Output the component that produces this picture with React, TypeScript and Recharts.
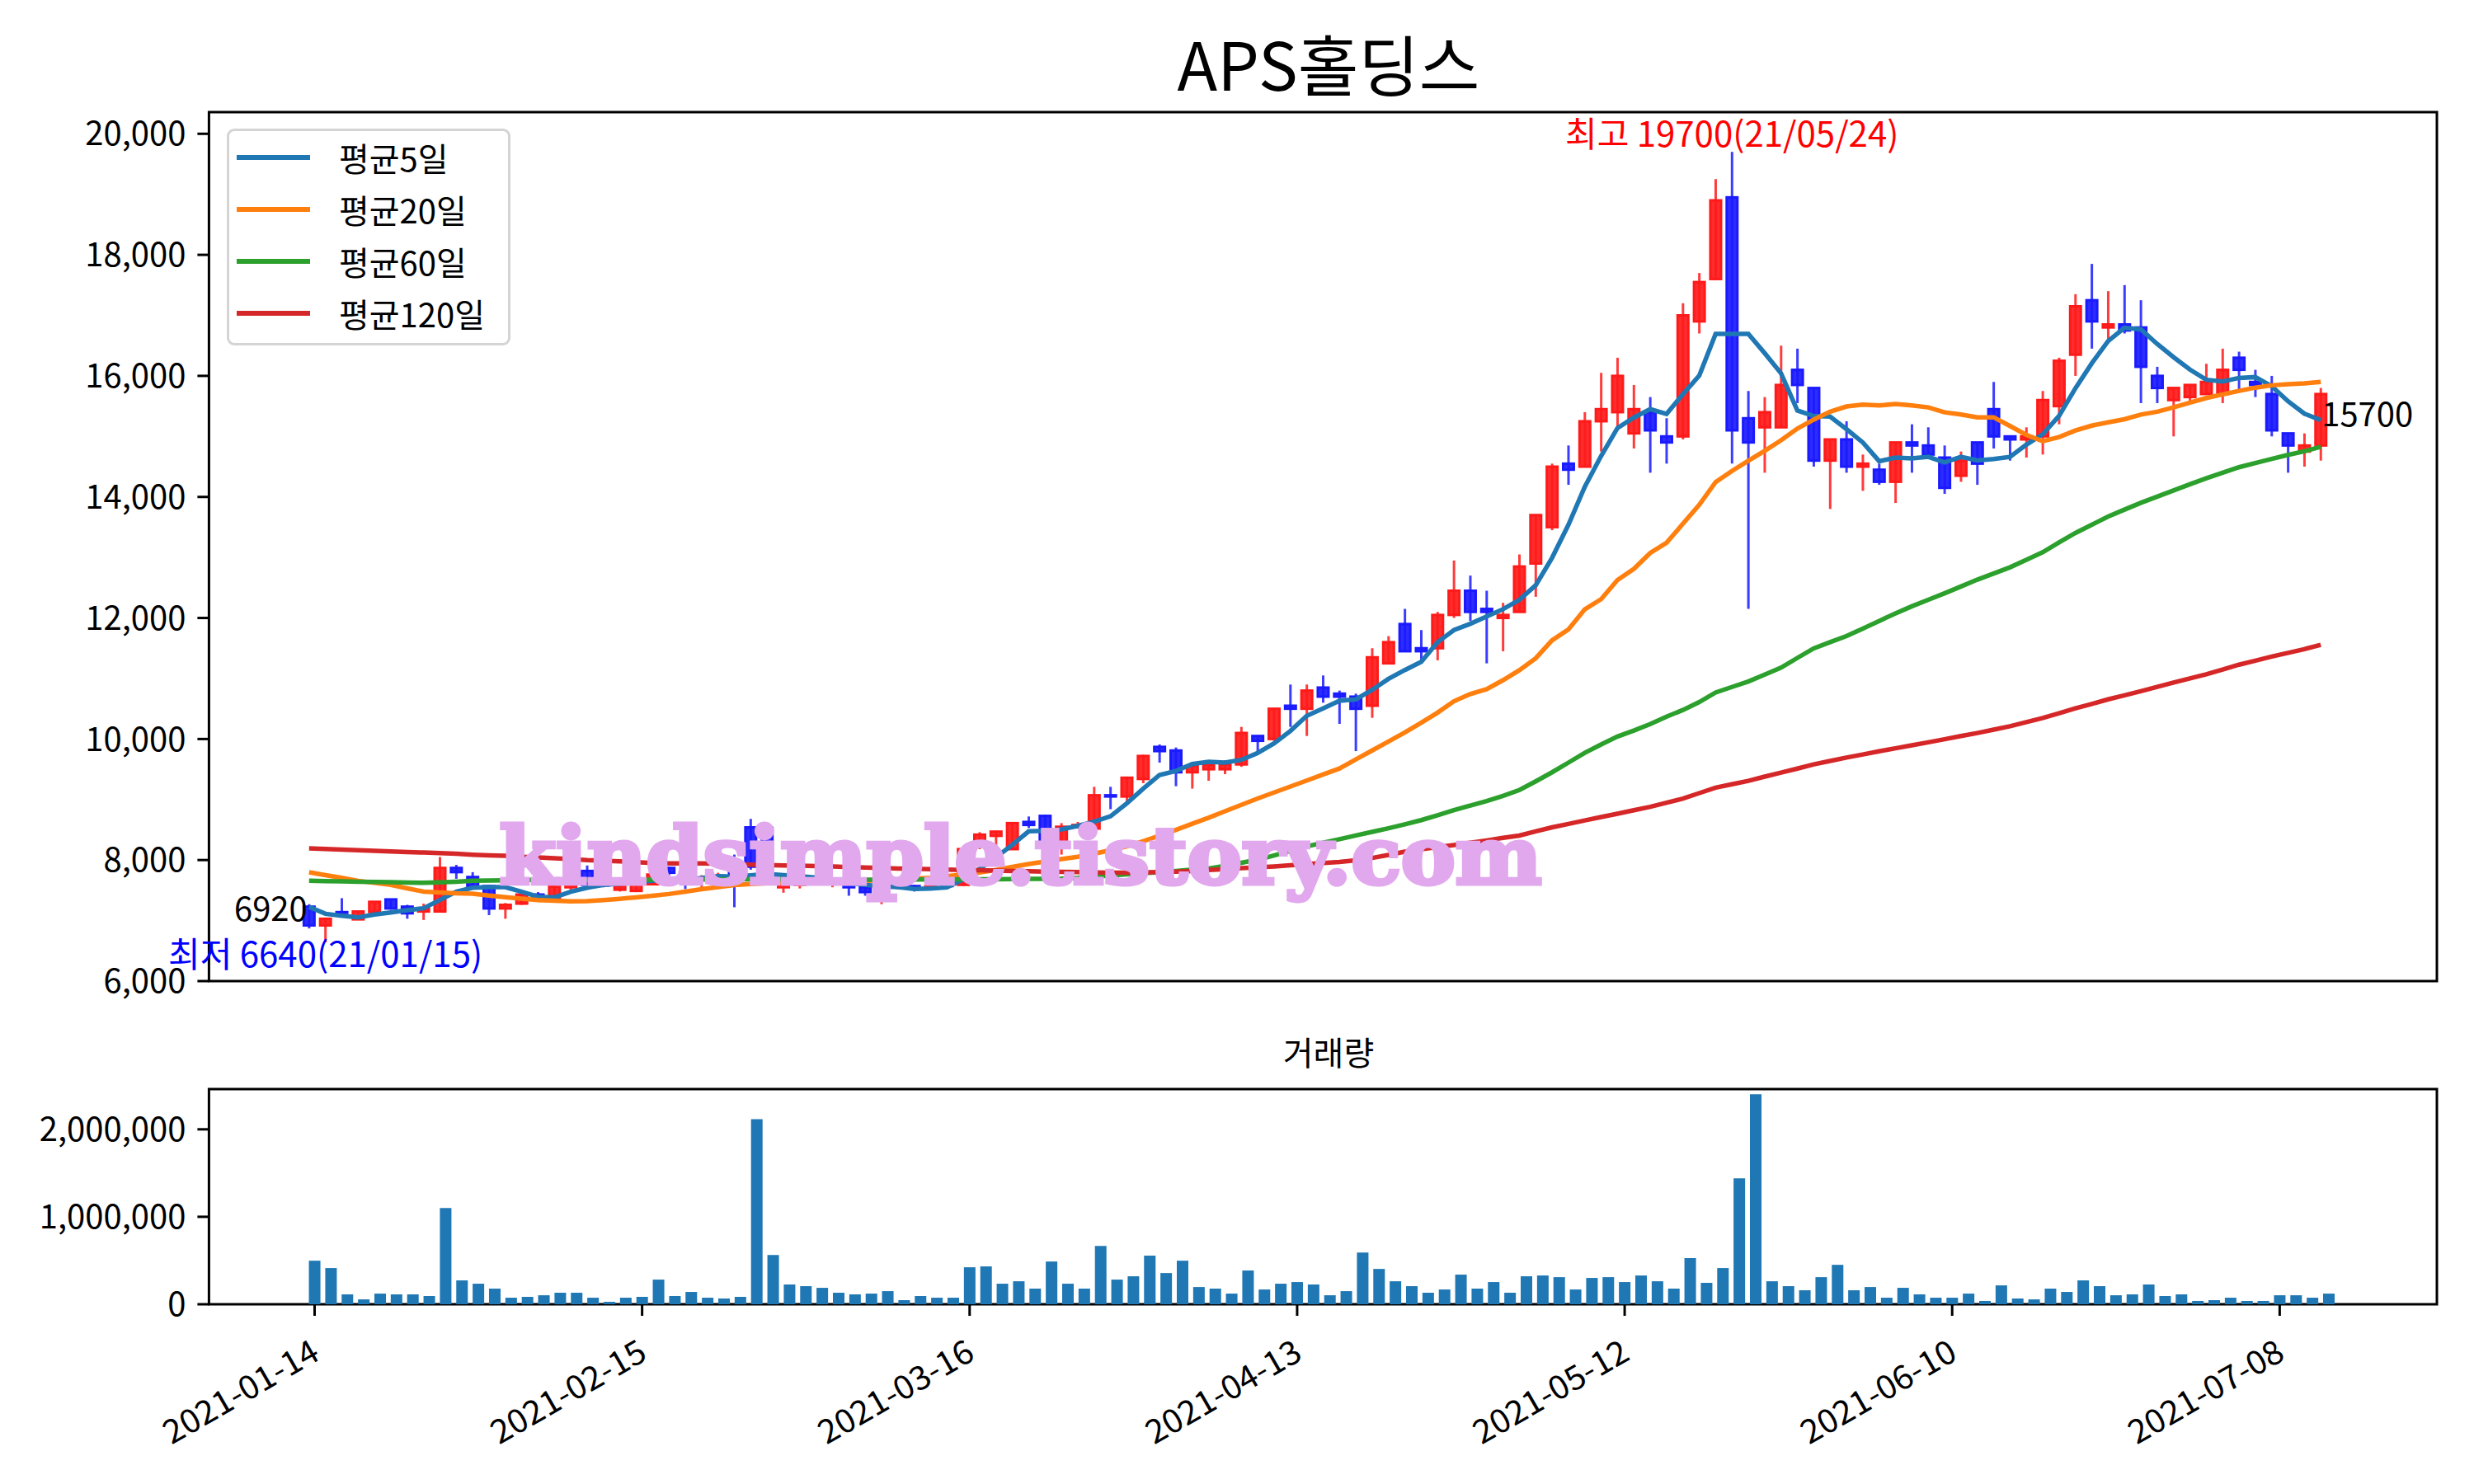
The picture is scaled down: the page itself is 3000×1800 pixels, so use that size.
import React from 'react';
import {
  ComposedChart,
  Bar,
  Line,
  XAxis,
  YAxis,
  ReferenceArea,
  ReferenceDot,
  Legend,
} from 'recharts';

const FONT = '"Noto Sans CJK KR", "Noto Sans", sans-serif';
const UP = '#ff1a1a';
const DOWN = '#1a1aff';

// trading days 2021-01-14 .. 2021-07-16, index 0..123
const opens = [
  7230, 6920, 7140, 7020, 7140, 7350, 7230, 7150, 7150, 7870,
  7720, 7570, 7200, 7280, 7430, 7380, 7550, 7820, 7620, 7510,
  7490, 7600, 7870, 7750, 7670, 7710, 7840, 8540, 8530, 7550,
  7590, 7640, 7610, 7670, 7550, 7470, 7590, 7570, 7530, 7590,
  7590, 8230, 8400, 8180, 8630, 8730, 8250, 8550, 8520, 9070,
  9050, 9340, 9870, 9810, 9450, 9500, 9500, 9580, 10050, 10000,
  10550, 10500, 10850, 10750, 10700, 10550, 11250, 11900, 11500, 11500,
  12050, 12450, 12150, 12000, 12100, 12900, 13500, 14550, 14500, 15250,
  15400, 15050, 15400, 15000, 15000, 16900, 17600, 18950, 15300, 15150,
  15150, 16100, 15800, 14600, 14950, 14500, 14450, 14250, 14900, 14850,
  14650, 14350, 14900, 15450, 15000, 14950, 15000, 15500, 16350, 17250,
  16800, 16850, 16800, 16000, 15600, 15650, 15700, 15700, 16300, 15900,
  15700, 15050, 14750, 14850,
];

const highs = [
  7270, 7040, 7370, 7160, 7320, 7360, 7260, 7280, 8050, 7920,
  7800, 7590, 7290, 7490, 7470, 7570, 7650, 7910, 7640, 7590,
  7610, 7790, 7890, 7790, 7750, 7790, 8090, 8680, 8540, 7640,
  7690, 7690, 7690, 7690, 7590, 7570, 7610, 7590, 7610, 7630,
  8230, 8460, 8480, 8630, 8720, 8750, 8610, 8630, 9210, 9210,
  9380, 9740, 9910, 9860, 9570, 9630, 9650, 10200, 10050, 10500,
  10900, 10900, 11050, 10800, 10750, 11500, 11700, 12150, 11800, 12100,
  12950, 12700, 12450, 12250, 13050, 13700, 14550, 14850, 15400, 16050,
  16300, 15850, 15650, 15300, 17200, 17700, 19250, 19700, 15750, 15650,
  16500, 16450, 15800, 14950, 15250, 14700, 14550, 14900, 15200, 15150,
  14850, 14750, 14900, 15900, 15000, 15150, 15750, 16300, 17350, 17850,
  17400, 17500, 17250, 16150, 15800, 15850, 16200, 16450, 16400, 16100,
  16000, 15050, 15050, 15800,
];

const lows = [
  6870, 6640, 7120, 7010, 7130, 7180, 7030, 7010, 7140, 7690,
  7550, 7090, 7030, 7260, 7360, 7370, 7510, 7570, 7550, 7480,
  7470, 7590, 7750, 7520, 7550, 7640, 7220, 7840, 7740, 7460,
  7530, 7590, 7550, 7410, 7410, 7270, 7520, 7480, 7510, 7550,
  7570, 8180, 8230, 8180, 8530, 8280, 8090, 8520, 8520, 8840,
  8950, 9270, 9610, 9220, 9180, 9310, 9420, 9540, 9770, 9970,
  10200, 10050, 10600, 10250, 9800, 10350, 11250, 11450, 11300, 11300,
  12000, 11950, 11250, 11450, 12100, 12350, 13450, 14200, 14500, 14750,
  15150, 14800, 14400, 14550, 14950, 16700, 17600, 14550, 12150, 14400,
  15150, 15550, 14500, 13800, 14400, 14100, 14200, 13900, 14400, 14650,
  14050, 14250, 14200, 14800, 14600, 14650, 14700, 15200, 16000, 16450,
  16600, 16700, 15550, 15550, 15000, 15550, 15700, 15550, 15750, 15650,
  15000, 14400, 14500, 14600,
];

const closes = [
  6920, 7030, 7130, 7150, 7310, 7200, 7120, 7200, 7870, 7800,
  7570, 7200, 7260, 7430, 7380, 7560, 7610, 7590, 7580, 7570,
  7590, 7760, 7790, 7670, 7710, 7740, 7740, 7890, 7790, 7610,
  7640, 7630, 7670, 7550, 7470, 7530, 7550, 7530, 7570, 7570,
  8180, 8420, 8470, 8610, 8580, 8310, 8550, 8580, 9070, 9050,
  9360, 9720, 9800, 9450, 9560, 9570, 9580, 10100, 9970, 10500,
  10500, 10800, 10700, 10700, 10500, 11350, 11600, 11450, 11450, 12050,
  12450, 12100, 12100, 12050, 12850, 13700, 14500, 14450, 15250, 15450,
  16000, 15450, 15100, 14900, 17000, 17550, 18900, 15100, 14900, 15400,
  15850, 15850, 14600, 14950, 14500, 14550, 14250, 14900, 14850, 14700,
  14150, 14600, 14550, 15000, 14950, 15000, 15600, 16250, 17150, 16900,
  16850, 16750, 16150, 15800, 15800, 15850, 15900, 16100, 16100, 15850,
  15100, 14850, 14850, 15700,
];

const volumes = [
  498000, 414000, 113000, 56000, 122000, 113000, 113000, 94000, 1100000, 273000,
  235000, 179000, 75000, 85000, 103000, 132000, 132000, 75000, 28000, 75000,
  85000, 282000, 94000, 141000, 75000, 66000, 85000, 2116000, 564000, 226000,
  207000, 188000, 132000, 113000, 122000, 150000, 47000, 94000, 75000, 75000,
  423000, 433000, 235000, 263000, 179000, 489000, 235000, 179000, 668000, 282000,
  320000, 555000, 357000, 498000, 197000, 179000, 122000, 386000, 169000, 235000,
  254000, 226000, 103000, 150000, 592000, 404000, 263000, 207000, 132000, 169000,
  339000, 179000, 254000, 132000, 320000, 329000, 310000, 169000, 301000, 310000,
  254000, 329000, 263000, 179000, 527000, 245000, 414000, 1439000, 2401000, 263000,
  207000, 160000, 310000, 451000, 160000, 197000, 75000, 188000, 113000, 75000,
  75000, 122000, 38000, 216000, 66000, 56000, 179000, 141000, 273000, 207000,
  103000, 113000, 226000, 94000, 113000, 38000, 47000, 75000, 38000, 38000,
  103000, 103000, 75000, 122000,
];

const ma5 = [
  7226, 7112, 7081, 7054, 7099, 7135, 7171, 7203, 7340, 7476,
  7543, 7553, 7553, 7476, 7394, 7384, 7476, 7543, 7589, 7612,
  7634, 7657, 7689, 7674, 7702, 7732, 7728, 7748, 7772, 7752,
  7732, 7710, 7666, 7618, 7590, 7568, 7552, 7524, 7528, 7548,
  7680, 7854, 8043, 8252, 8475, 8484, 8507, 8565, 8634, 8724,
  8937, 9179, 9406, 9473, 9587, 9623, 9610, 9655, 9769, 9928,
  10133, 10382, 10505, 10631, 10654, 10813, 10994, 11140, 11276, 11600,
  11800, 11904, 12025, 12145, 12300, 12540, 12994, 13540, 14167, 14677,
  15138, 15311, 15450, 15371, 15698, 16004, 16695, 16695, 16695, 16375,
  16042, 15427, 15337, 15327, 15120, 14899, 14590, 14649, 14636, 14662,
  14572, 14662, 14604, 14626, 14662, 14863, 15035, 15339, 15796, 16208,
  16577, 16794, 16770, 16527, 16309, 16104, 15935, 15908, 15966, 15980,
  15830, 15580, 15375, 15269,
];

const ma20 = [
  7797, 7751, 7706, 7657, 7623, 7589, 7533, 7479, 7464, 7451,
  7444, 7414, 7385, 7362, 7340, 7328, 7317, 7320, 7340, 7360,
  7384, 7409, 7439, 7479, 7518, 7553, 7588, 7603, 7616, 7628,
  7635, 7642, 7647, 7652, 7657, 7667, 7679, 7692, 7707, 7732,
  7761, 7796, 7836, 7886, 7935, 7975, 8015, 8054, 8104, 8163,
  8225, 8312, 8402, 8498, 8600, 8699, 8806, 8912, 9017, 9116,
  9215, 9314, 9414, 9513, 9662, 9811, 9960, 10110, 10268, 10436,
  10624, 10743, 10823, 10972, 11136, 11335, 11631, 11811, 12143, 12311,
  12628, 12811, 13073, 13242, 13556, 13870, 14246, 14429, 14598, 14762,
  14936, 15129, 15278, 15408, 15494, 15525, 15512, 15535, 15512, 15480,
  15398, 15362, 15316, 15316, 15171, 15025, 14920, 14989, 15098, 15178,
  15232, 15284, 15361, 15408, 15480, 15557, 15634, 15694, 15752, 15806,
  15844, 15862, 15876, 15899,
];

const ma60 = [
  7657, 7652, 7647, 7642, 7637, 7634, 7629, 7625, 7632, 7642,
  7657, 7662, 7667, 7671, 7671, 7671, 7671, 7672, 7673, 7674,
  7675, 7676, 7677, 7678, 7679, 7680, 7681, 7683, 7684, 7683,
  7682, 7680, 7679, 7678, 7677, 7676, 7677, 7678, 7679, 7680,
  7681, 7682, 7684, 7686, 7688, 7690, 7692, 7705, 7725, 7745,
  7765, 7785, 7797, 7820, 7842, 7861, 7905, 7955, 8005, 8075,
  8150, 8225, 8285, 8345, 8406, 8465, 8525, 8590, 8660, 8740,
  8826, 8900, 8976, 9060, 9157, 9300, 9450, 9610, 9771, 9910,
  10041, 10140, 10246, 10370, 10480, 10610, 10768, 10860, 10951, 11065,
  11178, 11340, 11497, 11600, 11701, 11825, 11951, 12075, 12193, 12300,
  12407, 12520, 12633, 12735, 12837, 12960, 13087, 13250, 13404, 13540,
  13676, 13790, 13903, 14005, 14107, 14210, 14309, 14400, 14490, 14560,
  14628, 14695, 14754, 14830,
];

const ma120 = [
  8193, 8183, 8173, 8163, 8153, 8143, 8133, 8124, 8114, 8104,
  8089, 8079, 8069, 8055, 8045, 8030, 8015, 7999, 7990, 7980,
  7965, 7953, 7945, 7943, 7943, 7940, 7933, 7925, 7918, 7912,
  7907, 7900, 7892, 7885, 7877, 7869, 7861, 7855, 7849, 7843,
  7837, 7831, 7825, 7820, 7815, 7810, 7806, 7800, 7795, 7792,
  7792, 7795, 7800, 7810, 7820, 7835, 7850, 7865, 7880, 7895,
  7915, 7935, 7950, 7967, 7995, 8035, 8084, 8139, 8179, 8213,
  8247, 8287, 8324, 8366, 8405, 8474, 8540, 8597, 8654, 8711,
  8766, 8824, 8880, 8948, 9015, 9106, 9196, 9252, 9309, 9378,
  9444, 9511, 9581, 9637, 9693, 9745, 9797, 9847, 9896, 9946,
  9996, 10049, 10099, 10155, 10211, 10279, 10347, 10426, 10506, 10580,
  10655, 10722, 10790, 10862, 10934, 11002, 11070, 11149, 11228, 11295,
  11363, 11424, 11485, 11557,
];

const tickDays = [0, 20, 40, 60, 80, 100, 120];
const tickLabels = ['2021-01-14', '2021-02-15', '2021-03-16', '2021-04-13', '2021-05-12', '2021-06-10', '2021-07-08'];
const priceTicks = [6000, 8000, 10000, 12000, 14000, 16000, 18000, 20000];
const volumeTicks = [0, 1000000, 2000000];

const maSeries = [
  { key: 'ma5', name: '평균5일', color: '#1f77b4' },
  { key: 'ma20', name: '평균20일', color: '#ff7f0e' },
  { key: 'ma60', name: '평균60일', color: '#2ca02c' },
  { key: 'ma120', name: '평균120일', color: '#d62728' },
];
const seriesOrder = maSeries.map((s) => s.name);

const rows = closes.map((close, i) => ({
  i,
  open: opens[i],
  high: highs[i],
  low: lows[i],
  close,
  range: [lows[i], highs[i]],
  volume: volumes[i],
  ma5: ma5[i],
  ma20: ma20[i],
  ma60: ma60[i],
  ma120: ma120[i],
}));

const maxHigh = Math.max(...highs);
const maxIdx = highs.indexOf(maxHigh);
const minLow = Math.min(...lows);
const minIdx = lows.indexOf(minLow);
const lastIdx = closes.length - 1;

const X_MAIN: [number, number] = [-6.12, 130.1];
const Y_MAIN: [number, number] = [6000, 20358];
const X_VOL: [number, number] = [-6.45, 129.6];
const Y_VOL: [number, number] = [0, 2460000];

const comma = (v: number) => v.toLocaleString('en-US');

function Candle(props: any) {
  const { x, y, width, height, payload } = props;
  if (!payload || x == null || y == null) return null;
  const top = height < 0 ? y + height : y;
  const h = Math.abs(height);
  const { open, close, high, low } = payload;
  const color = close >= open ? UP : DOWN;
  const k = high > low ? h / (high - low) : 0;
  const bodyTop = top + (high - Math.max(open, close)) * k;
  const bodyBot = top + (high - Math.min(open, close)) * k;
  const cx = x + width / 2;
  return (
    <g>
      <line x1={cx} x2={cx} y1={top} y2={top + h} stroke={color} strokeWidth={3} strokeOpacity={0.85} />
      <rect
        x={x + 1.5}
        y={bodyTop}
        width={width - 3}
        height={Math.max(bodyBot - bodyTop, 1)}
        fill={color}
        fillOpacity={0.92}
        stroke={color}
        strokeWidth={3}
      />
    </g>
  );
}

function DateTick({ x, y, payload }: any) {
  const label = tickLabels[tickDays.indexOf(payload.value)];
  const ax = x - 10;
  return (
    <text
      x={ax}
      y={y}
      textAnchor="end"
      dominantBaseline="hanging"
      transform={`rotate(-30 ${ax} ${y})`}
      fontSize={40}
      fontFamily={FONT}
      fill="#000"
      textLength={210}
      lengthAdjust="spacingAndGlyphs"
    >
      {label}
    </text>
  );
}

function MaLegend({ payload }: any) {
  const items = (payload || [])
    .filter((p: any) => seriesOrder.includes(p.value))
    .sort((a: any, b: any) => seriesOrder.indexOf(a.value) - seriesOrder.indexOf(b.value));
  return (
    <div
      style={{
        width: 344,
        height: 263,
        boxSizing: 'border-box',
        border: '3px solid #d4d4d4',
        borderRadius: 9,
        background: 'rgba(255,255,255,0.85)',
        fontFamily: FONT,
        fontSize: 40,
        color: '#000',
      }}
    >
      {items.map((p: any) => (
        <div key={p.value} style={{ display: 'flex', alignItems: 'center', height: 63 }}>
          <div style={{ width: 89, height: 6, background: p.color, marginLeft: 9 }} />
          <span style={{ marginLeft: 35, lineHeight: '40px' }}>{p.value}</span>
        </div>
      ))}
    </div>
  );
}

const textDot = (text: string, color: string, anchor: string, dx: number, dy: number, size = 40) =>
  (p: any) => (
    <text x={p.cx + dx} y={p.cy + dy} textAnchor={anchor} fontSize={size} fontFamily={FONT} fill={color}>
      {text}
    </text>
  );

const watermark = (p: any) => (
  <text
    x={p.cx}
    y={p.cy}
    textAnchor="middle"
    fontSize={96}
    fontWeight="bold"
    fontFamily='"DejaVu Serif", serif'
    fill="#e2a8ee"
    stroke="#e2a8ee"
    strokeWidth={5}
    textLength={1264}
    lengthAdjust="spacingAndGlyphs"
  >
    kindsimple.tistory.com
  </text>
);

const axisStroke = { stroke: '#000', strokeWidth: 3 };

export default function App() {
  return (
    <div style={{ position: 'absolute', left: 0, top: 0, width: 3000, height: 1800, background: '#fff' }}>
      <div style={{ position: 'absolute', left: 0, top: 0 }}>
        <ComposedChart width={3000} height={1260} data={rows} margin={{ top: 136, right: 45, bottom: 0, left: 0 }}>
          <XAxis
            dataKey="i"
            type="number"
            domain={X_MAIN}
            ticks={tickDays}
            allowDataOverflow
            tick={false}
            tickSize={14}
            height={70}
            axisLine={false}
            tickLine={axisStroke}
          />
          <YAxis
            type="number"
            domain={Y_MAIN}
            ticks={priceTicks}
            allowDataOverflow
            width={253.4}
            tickSize={14}
            tickMargin={14}
            tickFormatter={comma}
            tick={{ fontSize: 40, fill: '#000', fontFamily: FONT }}
            axisLine={false}
            tickLine={axisStroke}
          />
          <Bar
            dataKey="range"
            barSize={16}
            shape={(p: any) => <Candle {...p} />}
            isAnimationActive={false}
            legendType="none"
          />
          {maSeries.map((s) => (
            <Line
              key={s.key}
              dataKey={s.key}
              name={s.name}
              stroke={s.color}
              strokeWidth={5.5}
              dot={false}
              activeDot={false}
              type="linear"
              isAnimationActive={false}
            />
          ))}
          <ReferenceDot
            x={maxIdx}
            y={maxHigh}
            r={0}
            shape={textDot(`최고 ${maxHigh}(21/05/24)`, '#ff0000', 'middle', 0, -6, 42)}
          />
          <ReferenceDot
            x={minIdx}
            y={minLow}
            r={0}
            shape={textDot(`최저 ${minLow}(21/01/15)`, '#0000ff', 'middle', 0, 30, 42)}
          />
          <ReferenceDot x={0} y={closes[0]} r={0} shape={textDot(String(closes[0]), '#000', 'end', -2, -5)} />
          <ReferenceDot
            x={lastIdx}
            y={closes[lastIdx]}
            r={0}
            shape={textDot(String(closes[lastIdx]), '#000', 'start', 1, 39)}
          />
          <ReferenceDot x={43.5} y={7607} r={0} shape={watermark} />
          <ReferenceArea
            x1={X_MAIN[0]}
            x2={X_MAIN[1]}
            y1={Y_MAIN[0]}
            y2={Y_MAIN[1]}
            fill="none"
            fillOpacity={0}
            stroke="#000"
            strokeWidth={3}
            ifOverflow="visible"
          />
          <Legend
            layout="vertical"
            align="center"
            verticalAlign="middle"
            content={(p: any) => <MaLegend {...p} />}
            wrapperStyle={{ position: 'absolute', left: 275, top: 156, width: 344, height: 263 }}
          />
        </ComposedChart>
      </div>

      <div style={{ position: 'absolute', left: 0, top: 1260 }}>
        <ComposedChart width={3000} height={540} data={rows} margin={{ top: 61, right: 45, bottom: 0, left: 0 }}>
          <XAxis
            dataKey="i"
            type="number"
            domain={X_VOL}
            ticks={tickDays}
            allowDataOverflow
            tick={(p: any) => <DateTick {...p} />}
            tickSize={14}
            tickMargin={20}
            height={218}
            axisLine={false}
            tickLine={axisStroke}
          />
          <YAxis
            type="number"
            domain={Y_VOL}
            ticks={volumeTicks}
            allowDataOverflow
            width={253.4}
            tickSize={14}
            tickMargin={14}
            tickFormatter={comma}
            tick={{ fontSize: 40, fill: '#000', fontFamily: FONT }}
            axisLine={false}
            tickLine={axisStroke}
          />
          <Bar dataKey="volume" barSize={14} fill="#1f77b4" isAnimationActive={false} legendType="none" />
          <ReferenceArea
            x1={X_VOL[0]}
            x2={X_VOL[1]}
            y1={Y_VOL[0]}
            y2={Y_VOL[1]}
            fill="none"
            fillOpacity={0}
            stroke="#000"
            strokeWidth={3}
            ifOverflow="visible"
          />
        </ComposedChart>
      </div>

      <svg width={3000} height={1800} style={{ position: 'absolute', left: 0, top: 0, pointerEvents: 'none' }}>
        <text x={1611} y={110} textAnchor="middle" fontSize={80} fontFamily={FONT} fill="#000">
          APS홀딩스
        </text>
        <text x={1611} y={1292} textAnchor="middle" fontSize={40} fontFamily={FONT} fill="#000">
          거래량
        </text>
      </svg>
    </div>
  );
}
